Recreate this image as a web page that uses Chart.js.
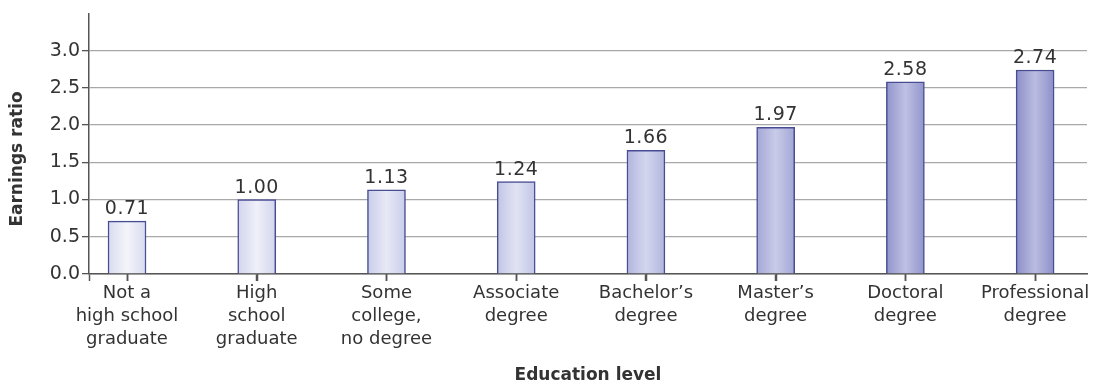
<!DOCTYPE html>
<html>
<head>
<meta charset="utf-8">
<script src="https://cdn.jsdelivr.net/npm/chart.js@4/dist/chart.umd.min.js"></script>
<style>
  html, body { margin: 0; padding: 0; background: #fff; }
  #wrap { width: 1106px; height: 390px; position: relative; }
</style>
</head>
<body>
<div id="wrap"><canvas id="chart"></canvas></div>
<script>
/* Earnings ratio by education level */
const CATEGORIES = [
    ['Not a', 'high school', 'graduate'],
    ['High', 'school', 'graduate'],
    ['Some', 'college,', 'no degree'],
    ['Associate', 'degree'],
    ["Bachelor\u2019s", 'degree'],
    ["Master\u2019s", 'degree'],
    ['Doctoral', 'degree'],
    ['Professional', 'degree']
];
const RATIOS = [0.71, 1.00, 1.13, 1.24, 1.66, 1.97, 2.58, 2.74];
const Y_TICKS = [0, 0.5, 1.0, 1.5, 2.0, 2.5, 3.0];
const Y_TITLE = 'Earnings ratio';
const X_TITLE = 'Education level';

const X_MIN = -0.293, X_MAX = 7.4;

// bar shading: edge / middle tones, light -> dark
const EDGE = ['#d8dbef', '#d2d5ed', '#c9cdea', '#c1c5e6', '#b1b5de', '#a3a7d6', '#9195cb', '#8b8fc7'];
const MID  = ['#f4f5fb', '#eff0f9', '#e8e9f6', '#e1e3f3', '#d4d6ee', '#c9cbe8', '#bfc0e3', '#bbbce1'];
const FONT = 'DejaVu Sans';
const TXT = '#333';
const AXIS = '#555';

const valueLabels = {
    id: 'valueLabels',
    afterDatasetsDraw(chart) {
        const c = chart.ctx;
        const meta = chart.getDatasetMeta(0);
        c.save();
        c.font = `19px "${FONT}"`;
        c.letterSpacing = '0.5px';
        c.fillStyle = TXT;
        c.textAlign = 'center';
        c.textBaseline = 'alphabetic';
        meta.data.forEach((bar, i) => c.fillText(RATIOS[i].toFixed(2), bar.x, bar.y - 7));
        c.restore();
    }
};

// y title sits a bit below the middle of the axis, and category tick marks
const extras = {
    id: 'extras',
    afterDraw(chart) {
        const c = chart.ctx, a = chart.chartArea, xs = chart.scales.x;
        c.save();
        c.strokeStyle = AXIS;
        c.lineWidth = 1.5;
        c.beginPath();
        CATEGORIES.forEach((_, i) => {
            const px = Math.round(xs.getPixelForValue(i)) + 0.5;
            c.moveTo(px, a.bottom);
            c.lineTo(px, a.bottom + 7);
        });
        c.stroke();

        c.translate(18, a.bottom - 115);
        c.rotate(-Math.PI / 2);
        c.font = `bold 17px "${FONT}"`;
        c.fillStyle = TXT;
        c.textAlign = 'center';
        c.textBaseline = 'middle';
        c.fillText(Y_TITLE, 0, 0);
        c.restore();
    }
};

function barFill(ctx) {
    const chart = ctx.chart;
    const i = ctx.dataIndex;
    if (!chart.chartArea || i === undefined) return MID[0];
    const cx = chart.scales.x.getPixelForValue(i);
    const g = chart.ctx.createLinearGradient(cx - 19, 0, cx + 19, 0);
    g.addColorStop(0, EDGE[i]);
    g.addColorStop(0.5, MID[i]);
    g.addColorStop(1, EDGE[i]);
    return g;
}

new Chart(document.getElementById('chart').getContext('2d'), {
    type: 'bar',
    data: {
        datasets: [{
            data: RATIOS.map((v, i) => ({ x: i, y: v })),
            backgroundColor: barFill,
            borderColor: '#474c93',
            borderWidth: 1.5,
            barThickness: 38
        }]
    },
    options: {
        responsive: true,
        maintainAspectRatio: false,
        animation: false,
        layout: { padding: { top: 10, right: 19, left: 0, bottom: 0 } },
        plugins: { legend: { display: false }, tooltip: { enabled: false } },
        scales: {
            x: {
                type: 'linear',
                offset: false,
                min: X_MIN,
                max: X_MAX,
                afterBuildTicks: s => { s.ticks = [{ value: X_MIN }].concat(CATEGORIES.map((_, i) => ({ value: i }))); },
                afterFit: s => { s.height = 116; },
                border: { color: AXIS, width: 1.5 },
                grid: {
                    offset: false,
                    drawOnChartArea: false,
                    tickLength: 7,
                    tickColor: AXIS,
                    tickWidth: 1.5
                },
                ticks: {
                    callback: v => (Number.isInteger(v) ? CATEGORIES[v] : ''),
                    color: TXT,
                    padding: 1,
                    maxRotation: 0,
                    autoSkip: false,
                    font: { family: FONT, size: 18, lineHeight: 1.28 }
                },
                title: {
                    display: true,
                    text: X_TITLE,
                    color: TXT,
                    font: { family: FONT, size: 17, weight: 'bold' },
                    padding: { top: 12 }
                }
            },
            y: {
                min: 0,
                max: 3.5,
                afterBuildTicks: s => { s.ticks = Y_TICKS.map(v => ({ value: v })); },
                afterFit: s => { s.width = 89; },
                border: { color: AXIS, width: 1.5 },
                grid: { color: '#a8a8a8', lineWidth: 1.3, tickLength: 7, tickColor: AXIS },
                ticks: {
                    callback: v => v.toFixed(1),
                    color: TXT,
                    padding: 2,
                    font: { family: FONT, size: 19 }
                }
            }
        }
    },
    plugins: [valueLabels, extras]
});
</script>
</body>
</html>
